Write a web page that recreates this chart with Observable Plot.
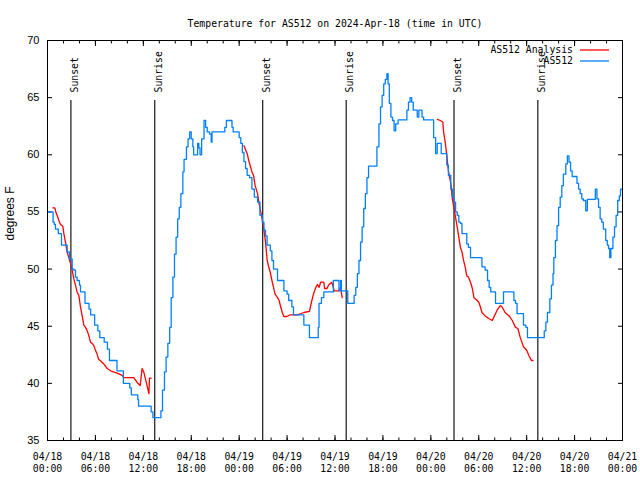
<!DOCTYPE html>
<html><head><meta charset="utf-8">
<script src="https://cdn.jsdelivr.net/npm/d3@7"></script>
<script src="https://cdn.jsdelivr.net/npm/@observablehq/plot@0.6"></script>
<style>body{margin:0;background:#fff} svg{display:block}</style>
</head><body><div id="chart"></div>
<script>
const startUTC = Date.UTC(2024, 3, 18, 0, 0);
const titleText = "Temperature for AS512 on 2024-Apr-18 (time in UTC)";
const yLabel = "degrees F";
const seriesNames = ["AS512 Analysis", "AS512"];
const seriesColors = ["#ff0000", "#0080ff"];
const yTicks = [35, 40, 45, 50, 55, 60, 65, 70];
const xMajorHours = [0, 6, 12, 18, 24, 30, 36, 42, 48, 54, 60, 66, 72];
const xMinorHours = [0,2,4,6,8,10,12,14,16,18,20,22,24,26,28,30,32,34,36,38,40,42,44,46,48,50,52,54,56,58,60,62,64,66,68,70,72];
const sunLabels = ["Sunset", "Sunrise", "Sunset", "Sunrise", "Sunset", "Sunrise"];
const sunHours = [2.93, 13.43, 26.95, 37.4, 50.9, 61.4];

// AS512 observations (hours since 04/18 00:00 UTC, deg F)
const obsHours = [0,0.7,0.85,1.0,1.35,1.75,2.46,2.75,3.09,3.3,3.5,3.7,4.0,4.13,4.7,5.2,5.4,5.9,6.3,6.55,
  7.1,7.5,7.76,8.7,9.5,10.3,10.5,11.3,11.4,12.98,13.2,
  14.2,14.4,14.65,14.85,15.07,15.3,15.49,15.7,15.9,16.1,16.3,16.5,16.7,16.95,17.1,17.4,17.6,17.8,18.0,18.2,
  18.3,18.8,18.95,19.1,19.3,19.6,19.8,20.0,20.3,20.5,20.6,22.2,22.4,23.1,23.25,24.0,24.2,24.4,24.6,24.8,
  25.0,25.3,25.6,25.9,26.3,26.6,26.9,27.1,27.3,27.5,27.9,28.1,28.3,28.8,29.6,30.0,30.2,30.6,30.8,32.1,
  32.8,33.9,34.0,34.3,34.6,35.8,36.5,36.7,36.8,37.6,38.4,38.6,38.8,39.0,39.2,39.4,39.6,39.8,40.0,40.2,
  41.25,41.5,41.7,41.9,42.1,42.3,42.5,42.65,42.8,43.0,43.2,43.4,43.6,43.9,45.0,45.2,45.4,45.6,45.8,46.3,
  46.5,46.9,47.1,48.35,48.6,48.8,49.3,50.0,50.2,50.5,50.7,50.9,51.1,51.3,51.5,51.7,51.9,52.5,52.7,52.97,
  54.4,54.8,55.1,55.3,55.5,56.1,57.1,58.4,58.6,58.8,59.6,59.9,60.1,62.2,62.4,62.6,62.9,63.1,63.3,63.4,
  63.6,63.8,64.0,64.2,64.4,64.6,64.9,65.1,65.3,65.5,65.7,66.3,66.5,66.7,66.9,67.1,67.4,67.6,68.6,68.8,
  69.0,69.2,69.4,69.6,69.9,70.1,70.25,70.4,70.55,70.8,71.0,71.2,71.4,71.6,71.75,72.0];
const obsTemps = [55.0,54.1,53.9,53.5,53.1,52.1,51.5,50.9,50.0,49.9,49.3,49.0,48.6,48.0,47.0,46.5,46.0,45.1,44.6,44.0,
  43.6,43.0,42.0,41.1,40.0,39.6,39.0,38.6,38.0,37.5,37.0,
  37.6,39.4,41.0,42.3,43.5,44.9,47.5,49.3,51.3,52.8,54.4,55.4,56.6,58.5,59.6,60.7,61.4,62.0,61.4,60.7,
  60.0,61.0,60.6,60.0,61.4,63.0,62.4,62.0,61.8,61.1,62.0,62.4,63.0,62.4,62.0,61.5,61.0,60.2,59.4,58.8,
  58.2,58.0,57.0,56.3,55.85,54.7,54.1,53.4,52.9,52.1,51.6,50.75,50.0,49.0,48.1,47.8,47.25,46.7,46.0,45.1,
  44.0,44.9,47.0,47.5,48.0,49.0,48.1,49.0,48.1,47.0,47.7,48.4,49.6,50.75,52.35,53.7,55.3,56.6,58.0,59.0,
  60.7,62.7,64.2,65.2,66.2,66.6,67.1,66.2,64.5,63.3,63.0,62.1,62.7,63.05,63.9,64.6,65.0,64.6,63.9,63.3,
  63.9,63.3,63.05,61.5,60.1,61.0,60.1,59.1,58.2,57.0,56.3,55.85,55.0,54.7,54.1,54.0,53.1,52.2,51.9,51.0,
  50.2,49.9,49.0,48.4,48.0,47.0,48.0,47.25,47.0,46.1,45.1,44.9,44.0,44.6,45.35,46.2,47.4,48.6,49.6,51.0,
  52.5,53.8,55.4,56.3,57.3,58.3,59.2,59.9,59.35,58.6,58.1,57.5,57.0,56.6,56.15,56.0,55.1,56.1,57.0,56.15,
  55.4,54.4,54.1,53.5,52.5,52.1,51.8,51.0,51.8,52.8,53.7,54.7,56.0,56.4,57.0,57.0];

// AS512 Analysis (null = gap between runs)
const anaHours = [0.67,0.92,1.08,1.21,1.42,1.63,1.92,2.05,2.25,2.46,2.67,2.88,3.09,3.3,3.5,3.7,3.92,4.13,4.34,4.55,
  4.76,4.97,5.17,5.38,5.59,5.8,6.0,6.2,6.4,6.6,7.05,7.47,7.9,8.72,9.35,9.56,10.8,11.2,11.6,11.85,12.05,12.4,12.7,12.77,12.98,
  18.0,
  24.6,25.0,25.2,25.4,25.6,25.8,26.0,26.3,26.5,26.7,26.9,27.1,27.3,27.5,27.7,27.9,28.1,28.3,28.5,28.8,29.0,29.2,29.4,29.6,
  30.0,30.4,31.3,32.1,32.8,33.1,33.3,33.6,33.8,34.0,34.2,34.6,34.7,35.0,35.2,35.6,35.9,36.5,36.7,36.9,
  42.0,
  48.8,49.2,49.5,49.6,49.8,50.0,50.2,50.5,50.7,50.9,51.1,51.3,51.5,51.7,51.9,52.1,52.3,52.5,52.7,52.97,53.2,53.4,53.8,54.0,
  54.2,54.4,54.8,55.3,55.7,55.9,56.3,56.7,56.9,57.3,57.8,58.2,58.6,58.9,59.2,59.6,60.0,60.3,60.6,60.8];
const anaTemps = [55.36,55.36,54.9,54.7,54.25,53.9,53.75,53.1,52.35,51.5,51.0,50.5,49.9,49.15,48.6,48.0,47.7,46.7,45.9,45.1,
  44.9,44.6,44.2,43.6,43.5,43.3,42.9,42.6,42.1,42.0,41.7,41.3,41.1,40.9,40.7,40.5,40.5,40.1,39.8,41.3,41.0,40.0,39.1,40.45,40.45,
  null,
  60.8,60.1,59.5,59.0,58.5,58.2,57.3,56.6,55.7,55.0,54.3,53.4,52.4,50.8,50.2,49.7,49.0,48.4,47.8,47.5,47.25,46.7,46.2,45.85,
  45.85,46.0,46.0,46.2,46.3,47.25,47.8,48.4,48.65,48.4,48.85,48.85,48.3,48.3,48.6,48.85,48.1,48.1,48.4,47.5,
  null,
  63.1,63.0,62.85,62.0,61.1,59.9,58.6,57.5,56.1,55.3,54.5,53.7,52.8,51.9,51.5,50.75,50.2,49.4,49.3,48.85,48.3,47.5,47.25,47.1,
  46.7,46.2,45.9,45.65,45.5,45.8,46.4,46.8,46.7,46.2,45.9,45.5,44.9,44.8,44.0,43.2,42.9,42.4,42.0,42.0];

const toDate = h => new Date(startUTC + h * 3600e3);
const obs = obsHours.map((h, i) => ({t: toDate(h), v: obsTemps[i]}));
const ana = anaHours.map((h, i) => ({t: toDate(h), v: anaTemps[i]}));
const xMajor = xMajorHours.map(toDate);
const xMinor = xMinorHours.map(toDate);
const sunDates = sunHours.map(toDate);
const fmtDay = d3.utcFormat("%m/%d"), fmtTime = d3.utcFormat("%H:%M");
const mono = "'DejaVu Sans Mono', 'Liberation Mono', monospace";
const sans = "'Liberation Sans', Arial, sans-serif";

const legendMark = (index, scales, values, dims) => {
  const g = d3.create("svg:g").attr("font-family", mono).attr("font-size", 9.8);
  seriesNames.forEach((name, i) => {
    const y = dims.marginTop + 10 + i * 11;
    const xr = dims.width - dims.marginRight - 42;
    g.append("text").attr("x", xr - 7).attr("y", y).attr("dy", "0.32em")
      .attr("text-anchor", "end").attr("fill", "#000").text(name);
    g.append("line").attr("x1", xr).attr("x2", xr + 29).attr("y1", y).attr("y2", y)
      .attr("stroke", seriesColors[i]).attr("stroke-width", 1.3);
  });
  return g.node();
};

const chart = Plot.plot({
  width: 640, height: 480,
  marginLeft: 47, marginRight: 18, marginTop: 40, marginBottom: 40,
  style: {fontFamily: mono, fontSize: "9.8px", background: "#fff", color: "#000"},
  x: {type: "utc", domain: [toDate(0), toDate(72)]},
  y: {domain: [35, 70]},
  marks: [
    Plot.axisX({anchor: "bottom", ticks: xMinor, tickSize: -2.5, fill: "none", label: null}),
    Plot.axisX({anchor: "top", ticks: xMinor, tickSize: -2.5, fill: "none", label: null}),
    Plot.axisX({anchor: "bottom", ticks: xMajor, tickSize: -5, fill: "none", label: null}),
    Plot.axisX({anchor: "top", ticks: xMajor, tickSize: -5, fill: "none", label: null}),
    Plot.axisX({anchor: "bottom", ticks: xMajor, tickSize: 0, tickPadding: 11, label: null,
      tickFormat: d => fmtDay(d) + "\n" + fmtTime(d), lineHeight: 1.22}),
    Plot.axisY({anchor: "left", ticks: yTicks, tickSize: -5, fill: "none", label: null}),
    Plot.axisY({anchor: "right", ticks: yTicks, tickSize: -5, fill: "none", label: null}),
    Plot.axisY({anchor: "left", ticks: yTicks, tickSize: 0, tickPadding: 8, label: null,
      fontFamily: sans, fontSize: 11}),
    Plot.ruleX(sunDates, {insetTop: 60, stroke: "#000", strokeWidth: 1.1}),
    Plot.text(sunDates, {x: d => d, text: (d, i) => sunLabels[i], frameAnchor: "top", dy: 52,
      rotate: -90, textAnchor: "start", fill: "#000"}),
    Plot.line(ana, {x: "t", y: "v", stroke: seriesColors[0], strokeWidth: 1.3}),
    Plot.line(obs, {x: "t", y: "v", stroke: seriesColors[1], strokeWidth: 1.3, curve: "step-after"}),
    Plot.frame({stroke: "#000"}),
    Plot.text([titleText], {frameAnchor: "top", dy: -20, fill: "#000"}),
    Plot.text([yLabel], {frameAnchor: "left", dx: -37, rotate: -90, fontFamily: sans, fontSize: 12, fill: "#000"}),
    legendMark
  ]
});
document.getElementById("chart").appendChild(chart);
</script>
</body></html>
